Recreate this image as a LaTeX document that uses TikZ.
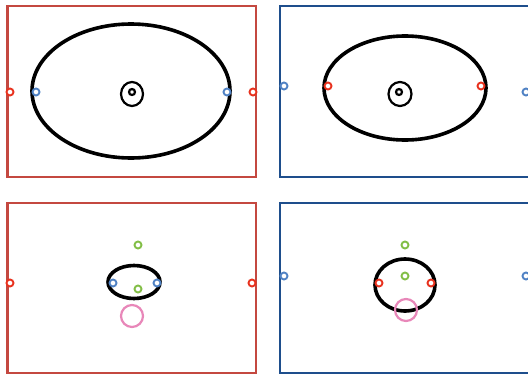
\documentclass[tikz,border=0pt]{standalone}
\begin{document}
\begin{tikzpicture}[x=1pt,y=-1pt,
  redframe/.style={draw=frameRed,line width=2.2pt},
  blueframe/.style={draw=frameBlue,line width=2.2pt},
  bigell/.style={draw=black,line width=3.6pt},
  eye/.style={draw=black,line width=2.2pt},
  dotr/.style={circle,draw=ptRed,line width=1.9pt,inner sep=0pt,minimum size=7pt,fill=white},
  dotb/.style={circle,draw=ptBlue,line width=1.9pt,inner sep=0pt,minimum size=7pt,fill=white},
  dotg/.style={circle,draw=ptGreen,line width=1.9pt,inner sep=0pt,minimum size=7pt,fill=white},
  pinkring/.style={circle,draw=ptPink,line width=2.2pt,inner sep=0pt,minimum size=22pt}]
\definecolor{frameRed}{RGB}{196,72,64}
\definecolor{frameBlue}{RGB}{30,78,140}
\definecolor{ptRed}{RGB}{232,50,30}
\definecolor{ptBlue}{RGB}{80,130,196}
\definecolor{ptGreen}{RGB}{130,190,70}
\definecolor{ptPink}{RGB}{232,135,185}
\useasboundingbox (0,0) rectangle (528,375);
\begin{scope}
\clip (0,0) rectangle (528,375);
% panel 1
\draw[redframe] (7.5,6) rectangle (256,177);
\draw[bigell] (131,91) ellipse [x radius=99,y radius=67];
\draw[eye] (132,94) ellipse [x radius=11,y radius=12];
\draw[eye] (132,92) circle [radius=3];
\node[dotr] (r1a) at (10,92) {};
\node[dotr] (r1b) at (253,92) {};
\node[dotb] (b1a) at (36,92) {};
\node[dotb] (b1b) at (227,92) {};
% panel 2
\draw[blueframe] (280,6) rectangle (531,177);
\draw[bigell] (405,88) ellipse [x radius=81,y radius=52];
\draw[eye] (400,94) ellipse [x radius=11.5,y radius=12];
\draw[eye] (399,92) circle [radius=3];
\node[dotr] (r2a) at (328,86) {};
\node[dotr] (r2b) at (481,86) {};
\node[dotb] (b2a) at (284,86) {};
\node[dotb] (b2b) at (526,92) {};
% panel 3
\draw[redframe] (7.5,203) rectangle (256,373);
\draw[bigell] (134,282) ellipse [x radius=26,y radius=16.5];
\node[dotg] (g3a) at (138,245) {};
\node[dotg] (g3b) at (138,289) {};
\node[dotb] (b3a) at (113,283) {};
\node[dotb] (b3b) at (157,283) {};
\node[dotr] (r3a) at (10,283) {};
\node[dotr] (r3b) at (252,283) {};
\node[pinkring] (p3) at (132,316) {};
% panel 4
\draw[blueframe] (280,203) rectangle (531,373);
\draw[bigell] (405,285) ellipse [x radius=30,y radius=26];
\node[dotg] (g4a) at (405,245) {};
\node[dotg] (g4b) at (405,276) {};
\node[dotr] (r4a) at (379,283) {};
\node[dotr] (r4b) at (431,283) {};
\node[dotb] (b4a) at (284,276) {};
\node[dotb] (b4b) at (526,276) {};
\node[pinkring] (p4) at (406,310) {};
\end{scope}
\end{tikzpicture}
\end{document}
